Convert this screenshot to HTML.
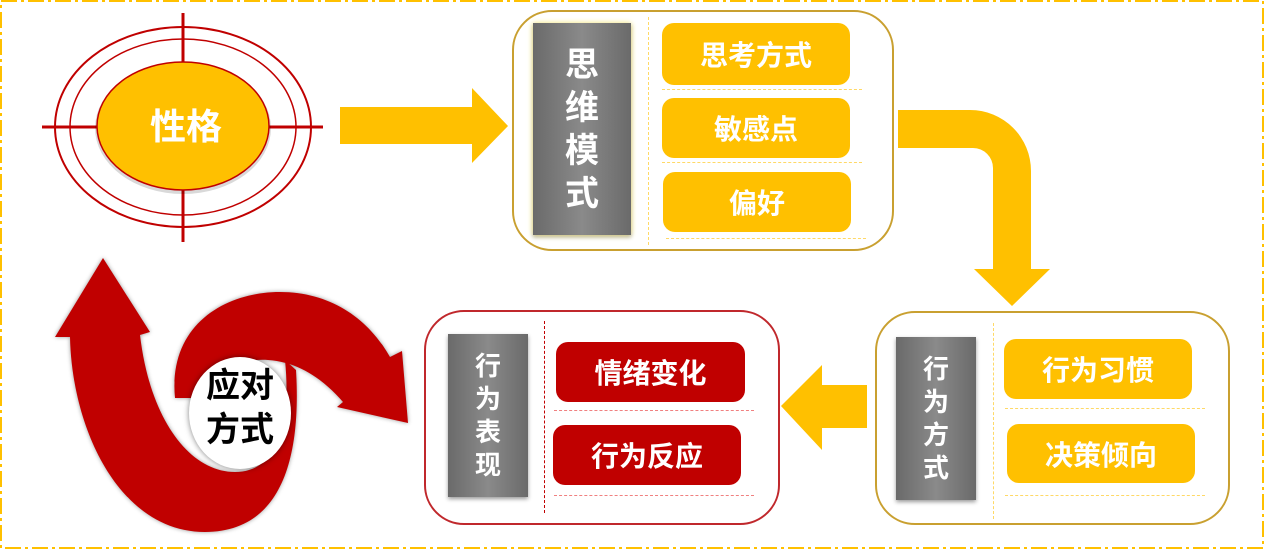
<!DOCTYPE html>
<html><head><meta charset="utf-8">
<style>
*{margin:0;padding:0;box-sizing:border-box}
body{width:1269px;height:551px;background:#fff;position:relative;overflow:hidden;font-family:"Liberation Sans","Noto Sans CJK SC",sans-serif;font-weight:bold}
.abs{position:absolute}
.box{position:absolute;border-radius:40px;background:#fff}
.bar{position:absolute;background:linear-gradient(90deg,#6a6a6a,#8a8a8a 50%,#6a6a6a);box-shadow:0 2px 4px rgba(0,0,0,.4);color:#fff;display:flex;flex-direction:column;align-items:center;justify-content:center;line-height:1}
.pill{position:absolute;border-radius:12px;color:#fff;display:flex;align-items:center;justify-content:center;font-size:28px}
.y{background:#ffc000}
.r{background:#c00000}
.vd{position:absolute;border-left:1px dashed}
.hd{position:absolute;border-top:1px dashed}
</style></head><body>
<svg class="abs" style="left:0;top:0" width="1269" height="551">
<rect x="1" y="1" width="1262" height="547" fill="none" stroke="#ffc000" stroke-width="2" stroke-dasharray="16 4 3 4"/>
<!-- target -->
<ellipse cx="183" cy="127" rx="128" ry="100" fill="none" stroke="#c00000" stroke-width="2"/>
<ellipse cx="183" cy="127" rx="113" ry="88" fill="none" stroke="#c00000" stroke-width="1.5"/>
<line x1="42" y1="127" x2="323" y2="127" stroke="#c00000" stroke-width="3"/>
<line x1="183" y1="13" x2="183" y2="242" stroke="#c00000" stroke-width="3"/>
<ellipse cx="183" cy="128" rx="88" ry="66" fill="rgba(0,0,0,.15)"/>
<ellipse cx="183" cy="126" rx="86" ry="64" fill="#ffc000" stroke="#c00000" stroke-width="1.5"/>
<text x="186" y="139" text-anchor="middle" font-size="36" fill="#fff" font-weight="bold" font-family="Liberation Sans,Noto Sans CJK SC,sans-serif">性格</text>
<!-- right arrow -->
<polygon points="340,107 472,107 472,88 508,126 472,163 472,144 340,144" fill="#ffc000"/>
<!-- bent arrow -->
<path d="M898,110 L970,110 A61,61 0 0 1 1031,171 L1031,269 L1050,269 L1012,306 L974,269 L993,269 L993,168 A20,20 0 0 0 973,148 L898,148 Z" fill="#ffc000"/>
<!-- left arrow -->
<polygon points="867,385 822,385 822,365 781,406 822,450 822,428 867,428" fill="#ffc000"/>
<!-- swirl -->
<g fill="#c00000" style="filter:drop-shadow(0 0 2px rgba(0,0,0,.4))">
<path d="M175,398 C168,325 225,292 280,292 C330,292 368,318 390,357 L402,351 L408,423 L337,407 L343,402 C322,378 298,362 268,360 C238,358 212,372 200,398 Z"/>
<path d="M70,337 L55,337 L103,258 L150,332 L140,335 C150,420 190,472 235,472 C275,472 292,430 285,360 L296,370 C302,470 275,532 205,532 C120,532 72,430 70,337 Z"/>
</g>
<ellipse cx="240" cy="413" rx="51" ry="56" fill="#fff" style="filter:drop-shadow(0 0 3px rgba(0,0,0,.5))"/>
<text x="240" y="397" text-anchor="middle" font-size="34" fill="#000" font-weight="bold" font-family="Liberation Sans,Noto Sans CJK SC,sans-serif">应对</text>
<text x="240" y="441" text-anchor="middle" font-size="34" fill="#000" font-weight="bold" font-family="Liberation Sans,Noto Sans CJK SC,sans-serif">方式</text>
</svg>

<!-- box 1 -->
<div class="box" style="left:512px;top:10px;width:382px;height:241px;border:2px solid #c9a030"></div>
<div class="bar" style="left:533px;top:23px;width:98px;height:212px;font-size:34px;gap:9px;box-shadow:0 0 6px #ffef80,0 2px 4px rgba(0,0,0,.4)"><span>思</span><span>维</span><span>模</span><span>式</span></div>
<div class="vd" style="left:648px;top:17px;height:228px;border-color:#ffd966"></div>
<div class="pill y" style="left:662px;top:23px;width:188px;height:62px">思考方式</div>
<div class="pill y" style="left:662px;top:98px;width:188px;height:60px">敏感点</div>
<div class="pill y" style="left:663px;top:172px;width:188px;height:60px">偏好</div>
<div class="hd" style="left:662px;top:89px;width:200px;border-color:#ffd966"></div>
<div class="hd" style="left:662px;top:162px;width:200px;border-color:#ffd966"></div>
<div class="hd" style="left:666px;top:238px;width:200px;border-color:#ffd966"></div>

<!-- box 3 -->
<div class="box" style="left:875px;top:311px;width:355px;height:214px;border:2px solid #c9a030"></div>
<div class="bar" style="left:896px;top:337px;width:80px;height:163px;font-size:26px;gap:7px"><span>行</span><span>为</span><span>方</span><span>式</span></div>
<div class="vd" style="left:993px;top:323px;height:196px;border-color:#ffd966"></div>
<div class="pill y" style="left:1004px;top:339px;width:188px;height:60px">行为习惯</div>
<div class="pill y" style="left:1007px;top:424px;width:188px;height:59px">决策倾向</div>
<div class="hd" style="left:1005px;top:408px;width:200px;border-color:#ffd966"></div>
<div class="hd" style="left:1005px;top:495px;width:200px;border-color:#ffd966"></div>

<!-- box 2 -->
<div class="box" style="left:424px;top:310px;width:356px;height:215px;border:2px solid #c0282c"></div>
<div class="bar" style="left:448px;top:334px;width:80px;height:163px;font-size:26px;gap:7px"><span>行</span><span>为</span><span>表</span><span>现</span></div>
<div class="vd" style="left:544px;top:321px;height:192px;border-color:#c00000"></div>
<div class="pill r" style="left:556px;top:342px;width:189px;height:60px">情绪变化</div>
<div class="pill r" style="left:553px;top:425px;width:188px;height:60px">行为反应</div>
<div class="hd" style="left:554px;top:410px;width:200px;border-color:#f08080"></div>
<div class="hd" style="left:554px;top:495px;width:200px;border-color:#f08080"></div>
</body></html>
